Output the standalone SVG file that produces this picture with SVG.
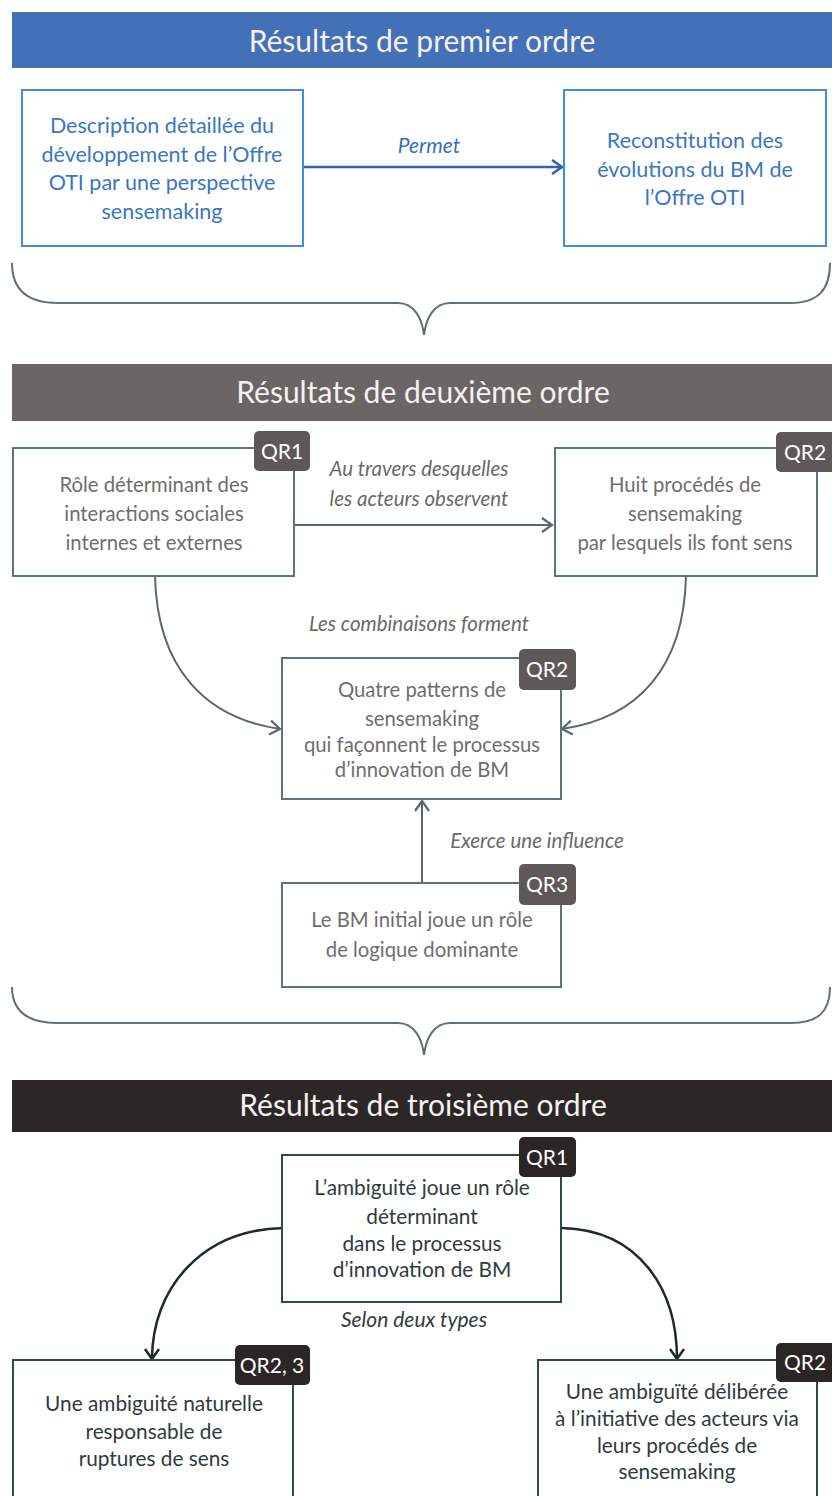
<svg xmlns="http://www.w3.org/2000/svg" width="832" height="1496" viewBox="0 0 832 1496">
<defs>
<style>
text{font-family:Lato,"Open Sans","Liberation Sans",sans-serif;text-anchor:middle}
.hdr{font-size:30px;fill:#f4f2f2}
.t1{font-size:21.5px;fill:#3a76c4}
.t2{font-size:20.3px;fill:#6e6e6e}
.t3{font-size:20.8px;fill:#2f3b40}
.lb1{font-size:21px;fill:#3a6fbd;font-style:italic}
.lb2{font-size:20.5px;fill:#6a6a6a;font-style:italic}
.lb3{font-size:21px;fill:#333b3f;font-style:italic}
.b1{fill:#fff;stroke:#3c8fdc;stroke-width:2}
.b2{fill:#fff;stroke:#5c7480;stroke-width:2}
.b3{fill:#fff;stroke:#2c4a52;stroke-width:2}
.qa{fill:#5e5858}
.qb{fill:#2a2626}
.qt{font-size:21px;fill:#fff}
.c1{fill:none;stroke:#3463ac;stroke-width:2.5}
.c2{fill:none;stroke:#59676e;stroke-width:2}
.c3{fill:none;stroke:#1f2a2e;stroke-width:2.5}
.br{fill:none;stroke:#5d7078;stroke-width:2}
</style>
<marker id="m1" markerUnits="userSpaceOnUse" markerWidth="14" markerHeight="18" refX="12" refY="9" orient="auto"><path d="M2,2 L12,9 L2,16" fill="none" stroke="#3463ac" stroke-width="2.5"/></marker>
<marker id="m2" markerUnits="userSpaceOnUse" markerWidth="14" markerHeight="18" refX="12" refY="9" orient="auto"><path d="M2,2 L12,9 L2,16" fill="none" stroke="#59676e" stroke-width="2.2"/></marker>
<marker id="m3" markerUnits="userSpaceOnUse" markerWidth="14" markerHeight="18" refX="12" refY="9" orient="auto"><path d="M2,2 L12,9 L2,16" fill="none" stroke="#1f2a2e" stroke-width="2.5"/></marker>
</defs>
<rect width="832" height="1496" fill="#fff"/>

<g id="header1"><rect x="12" y="12" width="830" height="56" fill="#4470b8"/><text class="hdr" x="422" y="52">Résultats de premier ordre</text></g>
<g id="header2"><rect x="12" y="364" width="830" height="57" fill="#6b6566"/><text class="hdr" x="423" y="403">Résultats de deuxième ordre</text></g>
<g id="header3"><rect x="12" y="1080" width="830" height="52" fill="#2b2727"/><text class="hdr" x="423" y="1116">Résultats de troisième ordre</text></g>

<g id="braces">
<path class="br" d="M12,263 C12,290 28,303 58,303 L398,303 C414,303 422,318 424,335 C426,318 434,303 450,303 L790,303 C818,303 830,290 830,263"/>
<path class="br" d="M12,987 C12,1012 28,1023 58,1023 L398,1023 C414,1023 422,1038 424,1055 C426,1038 434,1023 450,1023 L790,1023 C818,1023 830,1012 830,987"/>
</g>

<g id="connectors">
<path class="c1" d="M303,167 L562,167" marker-end="url(#m1)"/>
<path class="c2" d="M294,525 L552,525" marker-end="url(#m2)"/>
<path class="c2" d="M155,576 C157,668 205,718 280,729" marker-end="url(#m2)"/>
<path class="c2" d="M686,576 C684,668 638,718 562,729" marker-end="url(#m2)"/>
<path class="c2" d="M422,882 L422,801" marker-end="url(#m2)"/>
<path class="c3" d="M283,1228 C200,1230 152,1290 152,1359" marker-end="url(#m3)"/>
<path class="c3" d="M562,1228 C640,1230 677,1290 677,1359" marker-end="url(#m3)"/>
<text class="lb1" x="429" y="153">Permet</text>
<text class="lb2" x="419" y="476">Au travers desquelles</text>
<text class="lb2" x="419" y="506">les acteurs observent</text>
<text class="lb2" x="419" y="631">Les combinaisons forment</text>
<text class="lb2" x="537" y="848">Exerce une influence</text>
<text class="lb3" x="414" y="1327">Selon deux types</text>
</g>

<g id="nodeA"><rect class="b1" x="22" y="90" width="281" height="156"/>
<text class="t1" x="162" y="133">Description détaillée du</text>
<text class="t1" x="162" y="162">développement de l’Offre</text>
<text class="t1" x="162" y="190">OTI par une perspective</text>
<text class="t1" x="162" y="219">sensemaking</text></g>

<g id="nodeB"><rect class="b1" x="564" y="90" width="262" height="156"/>
<text class="t1" x="695" y="148">Reconstitution des</text>
<text class="t1" x="695" y="177">évolutions du BM de</text>
<text class="t1" x="695" y="205">l’Offre OTI</text></g>

<g id="nodeC"><rect class="b2" x="13" y="448" width="281" height="128"/>
<rect class="qa" x="254" y="431" width="56" height="40" rx="5"/><text class="qt" x="282" y="459">QR1</text>
<text class="t2" x="154" y="492">Rôle déterminant des</text>
<text class="t2" x="154" y="521">interactions sociales</text>
<text class="t2" x="154" y="550">internes et externes</text></g>

<g id="nodeD"><rect class="b2" x="555" y="448" width="262" height="128"/>
<rect class="qa" x="776" y="432" width="60" height="40" rx="5"/><text class="qt" x="805" y="460">QR2</text>
<text class="t2" x="685" y="492">Huit procédés de</text>
<text class="t2" x="685" y="521">sensemaking</text>
<text class="t2" x="685" y="550">par lesquels ils font sens</text></g>

<g id="nodeE"><rect class="b2" x="282" y="658" width="279" height="141"/>
<rect class="qa" x="519" y="649" width="57" height="41" rx="5"/><text class="qt" x="547" y="677">QR2</text>
<text class="t2" x="422" y="697">Quatre patterns de</text>
<text class="t2" x="422" y="726">sensemaking</text>
<text class="t2" x="422" y="752">qui façonnent le processus</text>
<text class="t2" x="422" y="777">d’innovation de BM</text></g>

<g id="nodeF"><rect class="b2" x="282" y="883" width="279" height="104"/>
<rect class="qa" x="519" y="864" width="57" height="41" rx="5"/><text class="qt" x="547" y="892">QR3</text>
<text class="t2" x="422" y="927">Le BM initial joue un rôle</text>
<text class="t2" x="422" y="957">de logique dominante</text></g>

<g id="nodeG"><rect class="b3" x="282" y="1155" width="279" height="147"/>
<rect class="qb" x="519" y="1137" width="57" height="40" rx="5"/><text class="qt" x="547" y="1165">QR1</text>
<text class="t3" x="422" y="1195">L’ambiguité joue un rôle</text>
<text class="t3" x="422" y="1224">déterminant</text>
<text class="t3" x="422" y="1251">dans le processus</text>
<text class="t3" x="422" y="1277">d’innovation de BM</text></g>

<g id="nodeH"><rect class="b3" x="13" y="1360" width="280" height="150"/>
<rect class="qb" x="235" y="1345" width="75" height="40" rx="5"/><text class="qt" x="272" y="1373">QR2, 3</text>
<text class="t3" x="154" y="1411">Une ambiguité naturelle</text>
<text class="t3" x="154" y="1439">responsable de</text>
<text class="t3" x="154" y="1466">ruptures de sens</text></g>

<g id="nodeI"><rect class="b3" x="538" y="1360" width="279" height="150"/>
<rect class="qb" x="776" y="1343" width="60" height="39" rx="5"/><text class="qt" x="805" y="1370">QR2</text>
<text class="t3" x="677" y="1399">Une ambiguïté délibérée</text>
<text class="t3" x="677" y="1426">à l’initiative des acteurs via</text>
<text class="t3" x="677" y="1453">leurs procédés de</text>
<text class="t3" x="677" y="1479">sensemaking</text></g>
</svg>
